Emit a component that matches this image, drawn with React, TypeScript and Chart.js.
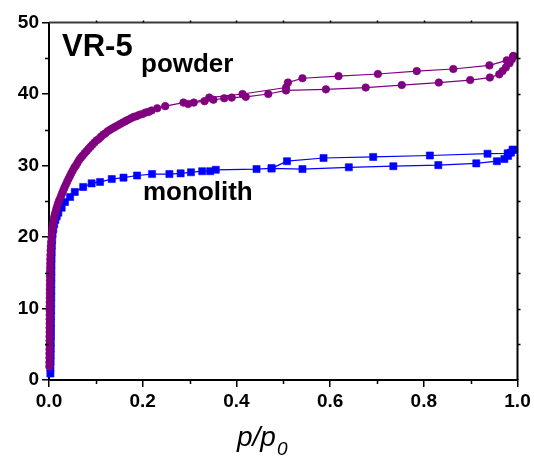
import React, { useEffect, useRef } from 'react';
import { Chart, registerables } from 'chart.js';

Chart.register(...registerables);

const FONT = '"Liberation Sans", Arial, Helvetica, sans-serif';

// Powder (purple circles) – adsorption branch
const powderAdsP = [
  0.0008, 0.0009, 0.0010, 0.0010, 0.0011, 0.0011, 0.0012, 0.0012, 0.0013, 0.0013,
  0.0014, 0.0014, 0.0015, 0.0015, 0.0016, 0.0016, 0.0017, 0.0018, 0.0018, 0.0019,
  0.0020, 0.0021, 0.0022, 0.0024, 0.0026, 0.0028, 0.0031, 0.0035, 0.0040, 0.0046,
  0.0053, 0.0061, 0.0070, 0.0080, 0.0092, 0.0105, 0.0119, 0.0135, 0.0152, 0.0170,
  0.0189, 0.0210, 0.0232, 0.0255, 0.0279, 0.0304, 0.0330, 0.0357, 0.0385, 0.0414,
  0.0444, 0.0475, 0.0507, 0.0540, 0.0574, 0.0609, 0.0645, 0.0682, 0.0720, 0.0759,
  0.0799, 0.0840, 0.0882, 0.0925, 0.0969, 0.1014, 0.1060, 0.1107, 0.1155, 0.1204,
  0.1254, 0.1305, 0.1357, 0.1410, 0.1464, 0.1519, 0.1575, 0.1632, 0.1690, 0.1749,
  0.1809, 0.1870, 0.1932, 0.1995, 0.2059, 0.2124, 0.2190, 0.2310, 0.2480, 0.2870,
  0.3090, 0.3320, 0.3510, 0.3740, 0.3900, 0.4200, 0.4680, 0.5060, 0.5910, 0.6760,
  0.7530, 0.8320, 0.8990, 0.9410, 0.9610, 0.9680, 0.9750, 0.9830, 0.9880, 0.9910,
];
const powderAdsV = [
  1.9, 2.5, 3.1, 3.7, 4.3, 4.9, 5.5, 6.1, 6.7, 7.3,
  7.9, 8.5, 9.1, 9.7, 10.3, 10.9, 11.5, 12.1, 12.7, 13.3,
  13.9, 14.5, 15.1, 15.7, 16.3, 16.9, 17.5, 18.1, 18.7, 19.3,
  19.9, 20.5, 21.1, 21.6, 22.1, 22.6, 23.0, 23.4, 23.8, 24.2,
  24.6, 25.0, 25.3, 25.7, 26.1, 26.5, 26.9, 27.3, 27.7, 28.1,
  28.5, 28.9, 29.3, 29.7, 30.0, 30.4, 30.8, 31.1, 31.4, 31.7,
  32.0, 32.3, 32.6, 32.9, 33.2, 33.5, 33.7, 34.0, 34.3, 34.5,
  34.8, 35.0, 35.2, 35.4, 35.6, 35.8, 36.0, 36.2, 36.4, 36.6,
  36.8, 36.9, 37.1, 37.2, 37.4, 37.5, 37.7, 38.0, 38.3, 38.8,
  38.8, 39.0, 39.2, 39.4, 39.5, 39.6, 40.0, 40.5, 40.65, 40.9,
  41.25, 41.6, 41.95, 42.3, 42.75, 43.2, 43.7, 44.3, 44.85, 45.3,
];

// Powder – desorption branch
const powderDesP = [0.9910, 0.9770, 0.9400, 0.8630, 0.7850, 0.7020, 0.6180, 0.5410, 0.5100, 0.5060, 0.4130, 0.3420, 0.2970];
const powderDesV = [45.3, 44.7, 44.0, 43.5, 43.2, 42.8, 42.5, 42.2, 41.6, 40.9, 40.0, 39.5, 38.6];

// Monolith (blue squares) – adsorption branch
const monoAdsP = [
  0.0030, 0.0031, 0.0034, 0.0036, 0.0038, 0.0039, 0.0041, 0.0042, 0.0043, 0.0044,
  0.0045, 0.0046, 0.0047, 0.0048, 0.0049, 0.0050, 0.0051, 0.0052, 0.0054, 0.0057,
  0.0061, 0.0067, 0.0076, 0.0090, 0.0110, 0.0135, 0.0165, 0.0200, 0.0270, 0.0340,
  0.0450, 0.0550, 0.0730, 0.0910, 0.1090, 0.1340, 0.1590, 0.1880, 0.2200, 0.2570,
  0.2810, 0.3030, 0.3270, 0.3440, 0.3560, 0.4430, 0.4750, 0.5410, 0.6400, 0.7350,
  0.8310, 0.9120, 0.9560, 0.9720, 0.9800, 0.9860, 0.9900,
];
const monoAdsV = [
  0.9, 1.7, 2.6, 3.5, 4.4, 5.3, 6.2, 7.1, 8.0, 8.9,
  9.8, 10.7, 11.6, 12.5, 13.4, 14.3, 15.2, 16.1, 17.0, 17.9,
  18.8, 19.6, 20.4, 21.1, 21.8, 22.4, 22.9, 23.4, 24.1, 24.9,
  25.6, 26.3, 27.0, 27.5, 27.7, 28.1, 28.3, 28.6, 28.8, 28.8,
  28.9, 29.05, 29.2, 29.2, 29.4, 29.5, 29.6, 29.5, 29.75, 29.9,
  30.05, 30.3, 30.6, 30.9, 31.35, 31.8, 32.2,
];

// Monolith – desorption branch
const monoDesP = [0.9900, 0.9790, 0.9360, 0.8130, 0.6920, 0.5860, 0.5080, 0.4750];
const monoDesV = [32.2, 31.7, 31.65, 31.4, 31.2, 31.05, 30.6, 29.6];

// Axis ticks
const yMinorTicks = [5, 15, 25, 35, 45];
const xMinorTicks = [0.1, 0.3, 0.5, 0.7, 0.9];
const rightTicks = [5, 10, 15, 20, 25, 30, 35, 40, 45];
const topTicks = [0.1, 0.2, 0.3, 0.4, 0.5, 0.6, 0.7, 0.8, 0.9];

const PURPLE = '#800080';
const BLUE = '#0000ff';

const toPoints = (p: number[], v: number[]) => p.map((x, i) => ({ x, y: v[i] }));

const decorPlugin = {
  id: 'decor',
  afterDraw(chart: any) {
    const { ctx, chartArea: a, scales } = chart;
    const xs = scales.x;
    const ys = scales.y;
    ctx.save();
    // top & right frame
    ctx.lineWidth = 2;
    ctx.strokeStyle = '#3a3a3a';
    ctx.beginPath();
    ctx.moveTo(a.left, a.top);
    ctx.lineTo(a.right, a.top);
    ctx.stroke();
    ctx.strokeStyle = '#000';
    ctx.beginPath();
    ctx.moveTo(a.right, a.top - 1);
    ctx.lineTo(a.right, a.bottom);
    ctx.stroke();
    // minor ticks
    ctx.lineWidth = 1.5;
    ctx.beginPath();
    for (const v of yMinorTicks) {
      const py = Math.round(ys.getPixelForValue(v)) + 0.5;
      ctx.moveTo(a.left - 4, py);
      ctx.lineTo(a.left, py);
    }
    for (const v of xMinorTicks) {
      const px = Math.round(xs.getPixelForValue(v)) + 0.5;
      ctx.moveTo(px, a.bottom);
      ctx.lineTo(px, a.bottom + 4);
    }
    for (const v of rightTicks) {
      const py = Math.round(ys.getPixelForValue(v)) + 0.5;
      ctx.moveTo(a.right, py);
      ctx.lineTo(a.right + 3, py);
    }
    for (const v of topTicks) {
      const px = Math.round(xs.getPixelForValue(v)) + 0.5;
      ctx.moveTo(px, a.top);
      ctx.lineTo(px, a.top - 2);
    }
    ctx.stroke();

    // annotations
    ctx.fillStyle = '#000';
    ctx.textAlign = 'left';
    ctx.textBaseline = 'alphabetic';
    ctx.font = `bold 31px ${FONT}`;
    ctx.fillText('VR-5', 62, 56);
    ctx.font = `bold 26px ${FONT}`;
    ctx.fillText('powder', 141, 72);
    ctx.fillText('monolith', 143, 200);

    // axis title p/p0
    ctx.font = `italic 28px ${FONT}`;
    ctx.fillText('p/p', 237, 446);
    const w = ctx.measureText('p/p').width;
    ctx.font = `italic 19px ${FONT}`;
    ctx.fillText('0', 237 + w + 1, 455);
    ctx.restore();
  },
};

export default function App() {
  const ref = useRef<HTMLCanvasElement | null>(null);
  useEffect(() => {
    if (!ref.current) return;
    const tickFont = { family: FONT, size: 19, weight: 'bold' as const };
    const common = {
      showLine: true,
      borderWidth: 1.2,
      pointBorderWidth: 0.6,
      clip: 6,
    };
    const chart = new Chart(ref.current, {
      type: 'scatter',
      data: {
        datasets: [
          {
            ...common,
            data: toPoints(powderAdsP, powderAdsV),
            borderColor: PURPLE,
            backgroundColor: PURPLE,
            pointStyle: 'circle',
            pointRadius: 3.8,
          },
          {
            ...common,
            data: toPoints(powderDesP, powderDesV),
            borderColor: PURPLE,
            backgroundColor: PURPLE,
            pointStyle: 'circle',
            pointRadius: 3.8,
          },
          {
            ...common,
            data: toPoints(monoAdsP, monoAdsV),
            borderColor: BLUE,
            backgroundColor: BLUE,
            pointStyle: 'rect',
            pointRadius: 5,
          },
          {
            ...common,
            data: toPoints(monoDesP, monoDesV),
            borderColor: BLUE,
            backgroundColor: BLUE,
            pointStyle: 'rect',
            pointRadius: 5,
          },
        ],
      },
      options: {
        animation: false,
        responsive: false,
        maintainAspectRatio: false,
        devicePixelRatio: 1,
        layout: { padding: { left: 0, top: 22.5, right: 16.5, bottom: 0 } },
        plugins: { legend: { display: false }, tooltip: { enabled: false } },
        scales: {
          x: {
            type: 'linear',
            min: 0,
            max: 1,
            afterFit: (s: any) => { s.height = 79; },
            ticks: {
              stepSize: 0.2,
              color: '#000',
              font: tickFont,
              padding: 3,
              maxRotation: 0,
              callback: (v: any) => Number(v).toFixed(1),
            },
            grid: { display: true, drawOnChartArea: false, drawTicks: true, tickLength: 7, color: '#000', lineWidth: 1.5 },
            border: { display: true, color: '#000', width: 2 },
          },
          y: {
            type: 'linear',
            min: 0,
            max: 50,
            afterFit: (s: any) => { s.width = 49; },
            ticks: {
              stepSize: 10,
              color: '#000',
              font: tickFont,
              padding: 3,
            },
            grid: { display: true, drawOnChartArea: false, drawTicks: true, tickLength: 7, color: '#000', lineWidth: 1.5 },
            border: { display: true, color: '#000', width: 2 },
          },
        },
      },
      plugins: [decorPlugin],
    });
    return () => chart.destroy();
  }, []);
  return (
    <div style={{ position: 'absolute', left: 0, top: 0, width: 534, height: 459, background: '#fff' }}>
      <canvas ref={ref} width={534} height={459} style={{ display: 'block' }} />
    </div>
  );
}
